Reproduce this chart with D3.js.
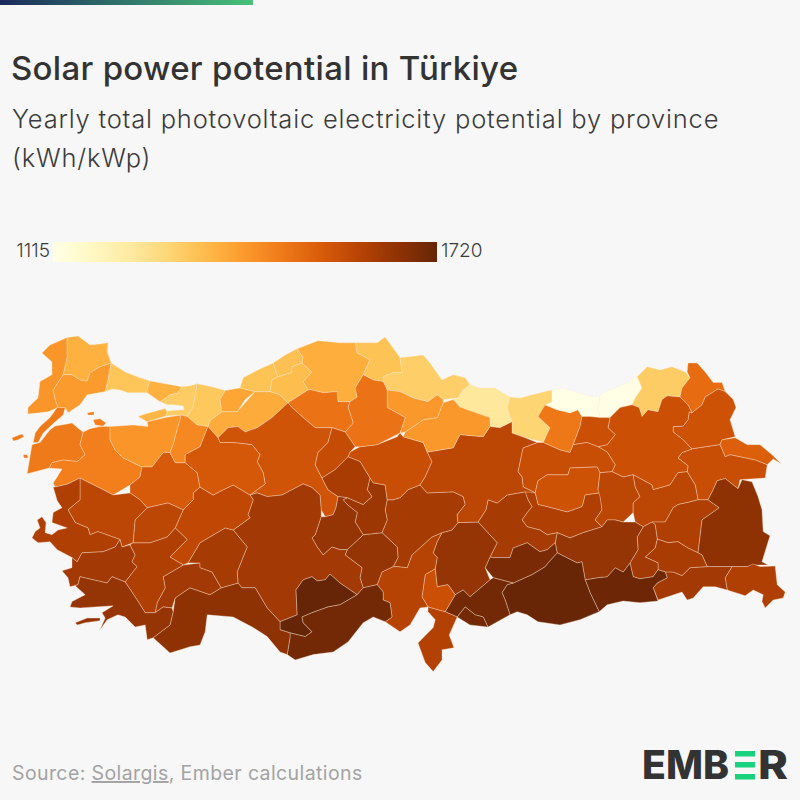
<!DOCTYPE html>
<html>
<head>
<meta charset="utf-8">
<script src="https://cdn.jsdelivr.net/npm/d3@7"></script>
<style>
  html, body { margin: 0; padding: 0; background: #f7f7f7; }
  svg { display: block; font-family: Inter, "Noto Sans", sans-serif; }
</style>
</head>
<body>
<svg id="chart" width="800" height="800"></svg>
<script>
const title = "Solar power potential in Türkiye";
const subtitleLines = ["Yearly total photovoltaic electricity potential by province", "(kWh/kWp)"];
const legendTicks = [1115, 1720];

const provinceNames = ["Edirne","Kırklareli","Tekirdağ","Çanakkale","Balıkesir","Bursa","Yalova","Kocaeli","İstanbul","İstanbul (Anadolu)","Sakarya","Düzce","Bolu","Zonguldak","Bartın","Karabük","Kastamonu","Sinop","Samsun","Ordu","Giresun","Gümüşhane","Trabzon","Rize","Artvin","Ardahan","Kars","Iğdır","Ağrı","Erzurum","Bayburt","Erzincan","Tunceli","Elazığ","Bingöl","Muş","Bitlis","Van","Hakkari","Şırnak","Siirt","Batman","Mardin","Diyarbakır","Şanlıurfa","Malatya","Adıyaman","Kahramanmaraş","Gaziantep","Kilis","Hatay","Osmaniye","Adana","Kayseri","Niğde","Nevşehir","Yozgat","Sivas","Tokat","Amasya","Çorum","Çankırı","Ankara","Kırıkkale","Kırşehir","Aksaray","Konya","Karaman","Mersin","Antalya","Burdur","Isparta","Afyonkarahisar","Kütahya","Bilecik","Eskişehir","Manisa","İzmir","Aydın","Denizli","Uşak","Muğla"];

const provinceValues = [1425,1375,1415,1475,1465,1425,1365,1320,1335,1375,1330,1395,1385,1340,1345,1350,1380,1340,1315,1245,1300,1480,1115,1115,1320,1505,1560,1530,1570,1565,1565,1570,1560,1610,1590,1590,1610,1660,1610,1630,1620,1630,1710,1650,1715,1625,1690,1650,1700,1700,1605,1565,1600,1625,1650,1640,1570,1590,1420,1420,1490,1490,1555,1575,1620,1650,1630,1720,1700,1660,1630,1625,1585,1540,1450,1545,1590,1610,1630,1610,1590,1650];

// province outlines as [lon, lat], one list of rings per province, same order as provinceNames
const provinceRings = [
  [[[26.42,41.80],[26.62,41.95],[27.05,42.09],[27.05,41.71],[26.95,41.39],[26.70,41.10],[26.75,40.92],[26.82,40.77],[26.57,40.69],[26.07,40.65],[26.07,40.77],[26.32,40.95],[26.37,41.26],[26.67,41.39],[26.67,41.63]]],
  [[[27.05,42.09],[27.32,42.12],[27.62,41.95],[27.87,41.97],[28.07,41.99],[28.05,41.82],[28.15,41.61],[27.87,41.54],[27.62,41.43],[27.55,41.27],[27.37,41.29],[27.17,41.39],[26.95,41.39],[27.05,41.71]]],
  [[[26.95,41.39],[27.17,41.39],[27.37,41.29],[27.55,41.27],[27.62,41.43],[27.87,41.54],[28.15,41.61],[28.07,41.29],[28.00,41.07],[27.55,41.01],[27.37,40.82],[27.07,40.67],[27.00,40.77],[26.82,40.77],[26.75,40.92],[26.70,41.10]]],
  [[[26.80,40.77],[27.00,40.77],[26.95,40.63],[26.75,40.50],[26.45,40.29],[26.32,40.11],[26.20,40.11],[26.25,40.29],[26.37,40.41],[26.62,40.58]],
   [[25.67,40.20],[25.92,40.27],[25.97,40.22],[25.82,40.16],[25.70,40.14]],
   [[25.95,39.88],[26.05,39.88],[26.07,39.82],[25.97,39.82]],
   [[26.17,40.07],[26.37,40.11],[26.62,40.35],[26.75,40.42],[27.05,40.46],[27.17,40.48],[27.37,40.35],[27.45,40.31],[27.37,40.07],[27.50,39.88],[27.30,39.75],[26.95,39.78],[26.67,39.73],[26.60,39.63],[26.05,39.52],[26.12,39.84]]],
  [[[26.60,39.63],[26.67,39.73],[26.95,39.78],[27.30,39.75],[27.50,39.88],[27.37,40.07],[27.45,40.31],[27.62,40.37],[27.87,40.41],[28.12,40.41],[28.12,40.16],[28.25,39.97],[28.45,39.82],[28.92,39.65],[28.87,39.46],[28.62,39.31],[28.20,39.12],[27.95,39.22],[27.55,39.37],[27.37,39.44],[27.07,39.33],[26.75,39.27],[26.70,39.35],[26.80,39.46],[26.92,39.61]],
   [[27.70,40.54],[27.87,40.56],[28.02,40.48],[27.95,40.42],[27.75,40.44]],
   [[27.55,40.67],[27.72,40.69],[27.72,40.63],[27.57,40.63]]],
  [[[28.12,40.41],[28.70,40.44],[29.07,40.41],[29.05,40.50],[29.50,40.58],[29.90,40.63],[29.87,40.54],[29.75,40.22],[29.70,40.07],[29.62,39.92],[29.45,39.92],[29.17,39.65],[28.92,39.65],[28.45,39.82],[28.25,39.97],[28.12,40.16]]],
  [[[28.82,40.60],[29.00,40.65],[29.50,40.75],[29.57,40.65],[29.52,40.61],[29.05,40.50]]],
  [[[29.37,40.88],[29.62,41.01],[29.82,41.05],[29.92,41.16],[30.12,41.18],[30.30,41.22],[30.20,40.78],[30.05,40.60],[29.90,40.63],[29.52,40.61],[29.57,40.71],[29.97,40.73],[29.95,40.80],[29.70,40.82],[29.55,40.82]]],
  [[[28.15,41.61],[28.50,41.44],[28.87,41.33],[29.12,41.27],[29.07,41.16],[29.05,41.05],[28.57,41.05],[28.37,41.10],[28.17,41.12],[28.00,41.07],[28.07,41.29]]],
  [[[29.12,41.27],[29.50,41.22],[29.92,41.16],[29.82,41.05],[29.62,41.01],[29.37,40.88],[29.05,41.05],[29.07,41.16]]],
  [[[30.30,41.22],[30.67,41.16],[31.00,41.09],[30.87,40.92],[30.92,40.69],[30.62,40.52],[30.57,40.41],[30.30,40.44],[30.05,40.60],[30.20,40.78]]],
  [[[31.00,41.09],[31.37,41.14],[31.75,41.07],[31.50,40.92],[31.30,40.69],[30.92,40.69],[30.87,40.92]]],
  [[[30.57,40.41],[30.62,40.52],[30.92,40.69],[31.30,40.69],[31.75,41.07],[32.12,41.07],[32.37,41.01],[32.57,40.86],[32.17,40.58],[31.80,40.39],[31.50,40.31],[31.32,40.41],[31.07,40.39],[30.82,40.20]]],
  [[[31.37,41.14],[31.45,41.33],[31.82,41.48],[32.20,41.61],[32.32,41.35],[32.17,41.29],[32.12,41.07],[31.75,41.07]]],
  [[[32.20,41.61],[32.50,41.76],[32.80,41.88],[32.95,41.71],[32.92,41.61],[32.67,41.54],[32.67,41.43],[32.32,41.35]]],
  [[[32.67,41.54],[32.92,41.61],[33.17,41.44],[32.95,41.26],[33.07,41.10],[32.57,40.86],[32.37,41.01],[32.12,41.07],[32.17,41.29],[32.32,41.35],[32.67,41.43]]],
  [[[32.80,41.88],[33.32,42.03],[33.87,41.99],[34.25,41.99],[34.30,41.80],[34.62,41.67],[34.45,41.39],[34.25,41.14],[34.30,40.97],[34.12,40.88],[33.82,40.88],[33.80,41.07],[33.45,41.05],[33.17,41.10],[33.07,41.10],[32.95,41.26],[33.17,41.44],[32.92,41.61],[32.95,41.71]]],
  [[[34.25,41.99],[34.80,41.99],[35.00,42.10],[35.17,41.92],[35.37,41.71],[35.42,41.43],[35.20,41.43],[34.95,41.35],[34.95,41.26],[34.70,41.29],[34.45,41.39],[34.62,41.67],[34.30,41.80]]],
  [[[35.37,41.71],[35.95,41.76],[36.12,41.61],[36.42,41.29],[36.70,41.39],[37.00,41.33],[37.12,41.20],[36.95,41.10],[36.82,40.95],[36.45,40.92],[36.30,41.01],[36.07,40.88],[35.70,40.95],[35.37,41.07],[35.05,41.10],[34.95,41.26],[34.95,41.35],[35.20,41.43],[35.42,41.43]]],
  [[[37.12,41.20],[37.37,41.14],[37.75,41.14],[38.12,40.97],[38.05,40.77],[38.17,40.50],[37.87,40.39],[37.62,40.41],[37.62,40.58],[37.20,40.69],[36.87,40.78],[36.70,40.92],[36.82,40.95],[36.95,41.10]]],
  [[[38.12,40.97],[38.37,40.95],[38.87,41.05],[39.17,41.10],[39.17,40.88],[38.82,40.60],[39.12,40.39],[38.95,40.12],[38.50,40.20],[38.17,40.29],[38.17,40.50],[38.05,40.77]]],
  [[[39.00,40.82],[39.30,40.73],[39.62,40.67],[39.82,40.73],[39.92,40.60],[39.87,40.41],[39.70,40.07],[39.62,39.92],[39.37,39.97],[38.95,40.11],[39.12,40.39],[38.82,40.60]]],
  [[[39.17,41.10],[39.45,41.14],[39.80,41.05],[40.20,40.97],[40.37,40.99],[40.32,40.73],[40.37,40.58],[40.12,40.60],[39.92,40.60],[39.82,40.73],[39.62,40.67],[39.30,40.73],[39.00,40.82],[39.17,40.88]]],
  [[[40.37,40.99],[40.45,41.05],[40.95,41.20],[41.30,41.35],[41.42,41.14],[41.25,40.95],[41.17,40.82],[40.87,40.77],[40.62,40.60],[40.37,40.58],[40.32,40.73]]],
  [[[41.30,41.35],[41.55,41.54],[41.87,41.48],[42.17,41.54],[42.50,41.44],[42.62,41.33],[42.42,41.14],[42.37,40.97],[42.05,40.99],[41.92,40.92],[41.82,40.69],[41.57,40.73],[41.42,40.60],[41.35,40.77],[41.17,40.82],[41.25,40.95],[41.42,41.14]]],
  [[[42.57,41.61],[42.80,41.61],[43.00,41.44],[43.20,41.24],[43.42,41.24],[43.50,41.07],[43.32,41.12],[43.00,40.97],[42.92,40.82],[42.67,40.67],[42.57,40.82],[42.37,40.97],[42.42,41.14],[42.62,41.33],[42.55,41.44]]],
  [[[43.32,41.12],[43.50,41.07],[43.70,40.92],[43.77,40.77],[43.62,40.54],[43.75,40.22],[43.42,40.16],[43.37,40.07],[42.67,39.99],[42.45,40.16],[42.20,40.31],[42.20,40.41],[42.45,40.42],[42.57,40.54],[42.60,40.69],[42.67,40.67],[42.92,40.82],[43.00,40.97]]],
  [[[43.42,40.16],[43.75,40.20],[44.05,40.07],[44.37,40.07],[44.67,39.88],[44.90,39.71],[44.70,39.80],[44.55,39.69],[44.25,39.78],[43.62,39.88],[43.50,39.84],[43.37,40.07]]],
  [[[42.67,39.99],[43.37,40.07],[43.50,39.84],[43.62,39.88],[44.25,39.78],[44.55,39.69],[44.50,39.44],[43.87,39.41],[43.82,39.24],[43.50,39.43],[43.30,39.39],[43.20,39.22],[43.07,39.03],[42.82,39.03],[42.75,39.31],[42.55,39.56],[42.57,39.67],[42.32,39.82],[42.42,39.92]]],
  [[[41.42,40.60],[41.57,40.73],[41.82,40.69],[41.92,40.92],[42.05,40.99],[42.37,40.97],[42.57,40.82],[42.67,40.67],[42.60,40.69],[42.57,40.54],[42.45,40.42],[42.20,40.41],[42.20,40.31],[42.45,40.16],[42.67,39.99],[42.42,39.92],[42.32,39.82],[42.57,39.67],[42.55,39.56],[42.32,39.54],[42.12,39.31],[41.70,39.22],[41.67,39.31],[41.20,39.50],[40.95,39.46],[40.67,39.56],[40.75,39.69],[40.55,39.93],[40.32,40.03],[40.55,40.07],[40.75,40.26],[40.57,40.39],[40.62,40.58],[40.87,40.77],[41.17,40.82],[41.35,40.77]]],
  [[[39.92,40.60],[40.12,40.60],[40.37,40.58],[40.62,40.58],[40.57,40.39],[40.75,40.26],[40.55,40.07],[40.32,40.03],[40.05,40.11],[39.70,40.07],[39.87,40.41]]],
  [[[38.80,40.11],[38.95,40.11],[39.37,39.97],[39.62,39.92],[39.70,40.07],[40.05,40.11],[40.32,40.03],[40.55,39.93],[40.75,39.69],[40.67,39.56],[40.37,39.54],[40.30,39.65],[39.62,39.63],[39.57,39.50],[39.05,39.50],[38.82,39.39],[38.75,39.16],[38.45,39.27],[38.42,39.46],[38.32,39.56],[38.42,39.93],[38.45,40.01]]],
  [[[38.82,39.39],[39.05,39.50],[39.57,39.50],[39.62,39.63],[40.30,39.65],[40.37,39.54],[40.32,39.22],[40.37,39.16],[40.00,39.12],[39.95,38.97],[39.92,38.90],[39.55,38.80],[39.05,38.90],[38.82,38.94],[38.75,39.16]]],
  [[[38.45,39.27],[38.75,39.16],[38.82,38.94],[39.05,38.90],[39.55,38.80],[39.92,38.90],[39.95,38.97],[40.00,39.12],[40.37,39.16],[40.42,38.84],[40.25,38.65],[40.42,38.52],[39.95,38.41],[39.62,38.31],[39.30,38.41],[39.05,38.37],[38.87,38.46],[38.55,38.52],[38.42,38.65],[38.55,38.79],[38.67,38.90],[38.57,39.03]]],
  [[[40.37,39.54],[40.67,39.56],[40.95,39.46],[41.20,39.50],[41.25,39.27],[41.37,39.09],[41.20,38.97],[41.20,38.79],[40.95,38.61],[40.75,38.65],[40.55,38.65],[40.42,38.52],[40.25,38.65],[40.42,38.84],[40.37,39.09],[40.32,39.22]]],
  [[[41.20,39.50],[41.67,39.31],[41.70,39.22],[42.12,39.31],[42.32,39.54],[42.55,39.56],[42.75,39.31],[42.82,39.03],[42.62,38.99],[42.32,38.94],[42.20,38.88],[42.00,38.61],[41.67,38.61],[41.45,38.52],[41.25,38.61],[41.20,38.79],[41.20,38.97],[41.37,39.09],[41.25,39.27]]],
  [[[42.32,38.94],[42.62,38.99],[42.82,39.03],[43.07,39.03],[43.35,38.88],[42.92,38.65],[42.87,38.33],[42.82,38.03],[42.57,38.12],[42.32,38.24],[42.07,38.22],[41.80,38.29],[41.75,38.56],[41.67,38.61],[42.00,38.61],[42.20,38.88]]],
  [[[43.07,39.03],[43.20,39.22],[43.30,39.39],[43.50,39.43],[43.82,39.24],[43.92,39.41],[44.17,39.37],[44.32,39.09],[44.42,38.84],[44.45,38.43],[44.62,38.35],[44.55,38.18],[44.42,37.86],[44.57,37.80],[44.20,37.80],[44.05,37.77],[43.67,37.77],[43.05,37.77],[42.92,37.99],[42.82,38.03],[42.87,38.33],[42.92,38.65],[43.35,38.88]]],
  [[[43.67,37.77],[44.05,37.77],[44.20,37.82],[44.37,37.77],[44.75,37.78],[44.80,37.43],[45.00,37.29],[44.95,37.18],[44.70,37.14],[44.50,36.99],[44.42,37.11],[44.45,37.24],[44.20,37.33],[44.00,37.22],[43.55,37.33],[43.50,37.56]]],
  [[[43.05,37.77],[43.67,37.77],[43.50,37.56],[43.55,37.33],[43.25,37.39],[42.95,37.39],[42.70,37.18],[42.55,37.14],[42.42,37.29],[41.82,37.14],[41.70,37.37],[41.80,37.46],[42.05,37.56],[42.00,37.67],[42.20,37.67],[42.42,37.60],[42.62,37.75]]],
  [[[41.80,38.29],[42.07,38.22],[42.32,38.24],[42.57,38.12],[42.82,38.03],[42.92,37.99],[43.05,37.77],[42.62,37.75],[42.42,37.60],[42.20,37.67],[42.00,37.67],[41.82,37.71],[41.82,37.84],[41.50,37.95],[41.75,38.12]]],
  [[[41.45,38.52],[41.67,38.61],[41.75,38.56],[41.80,38.29],[41.75,38.12],[41.50,37.95],[41.82,37.84],[41.82,37.71],[41.70,37.58],[41.37,37.54],[41.20,37.58],[41.12,37.84],[41.32,38.09],[41.30,38.33]]],
  [[[40.00,37.52],[40.30,37.56],[40.55,37.58],[40.75,37.75],[40.95,37.67],[41.12,37.84],[41.20,37.58],[41.37,37.54],[41.70,37.58],[41.82,37.71],[42.00,37.67],[42.05,37.56],[41.80,37.46],[41.70,37.37],[41.82,37.12],[41.37,37.09],[40.95,37.12],[40.55,37.05],[40.35,36.92],[40.12,37.28]]],
  [[[39.30,38.41],[39.62,38.31],[39.95,38.41],[40.42,38.52],[40.55,38.65],[40.75,38.65],[40.95,38.61],[41.25,38.61],[41.45,38.52],[41.30,38.33],[41.32,38.09],[41.12,37.84],[40.95,37.67],[40.75,37.75],[40.55,37.58],[40.30,37.56],[40.00,37.52],[39.92,37.86],[39.80,37.84],[39.30,38.03],[39.25,38.22]]],
  [[[39.30,38.03],[39.80,37.84],[39.92,37.86],[40.00,37.52],[40.12,37.28],[40.35,36.92],[39.87,36.77],[39.37,36.67],[38.82,36.73],[38.55,36.86],[38.30,36.92],[38.12,36.86],[38.00,37.14],[37.92,37.28],[38.05,37.43],[38.20,37.46],[38.67,37.62],[39.00,37.77],[39.07,37.84]]],
  [[[37.57,39.03],[37.80,38.97],[38.05,39.12],[38.50,39.18],[38.57,39.03],[38.67,38.90],[38.55,38.79],[38.42,38.65],[38.55,38.52],[38.87,38.46],[39.05,38.37],[39.30,38.41],[39.25,38.22],[39.05,38.09],[38.87,38.05],[38.55,38.22],[38.20,38.12],[38.12,37.94],[37.70,37.94],[37.62,37.95],[37.80,38.22],[37.32,38.61],[37.52,38.84]]],
  [[[37.70,37.94],[38.12,37.94],[38.20,38.12],[38.55,38.22],[38.87,38.05],[39.05,38.09],[39.25,38.22],[39.30,38.03],[39.07,37.84],[39.00,37.77],[38.67,37.62],[38.20,37.46],[37.70,37.56],[37.50,37.75],[37.62,37.95]]],
  [[[36.82,38.60],[37.32,38.61],[37.80,38.22],[37.62,37.95],[37.50,37.75],[37.62,37.52],[37.12,37.20],[36.95,37.33],[36.75,37.24],[36.57,37.43],[36.30,37.39],[36.25,37.73],[36.30,37.94],[36.20,38.03],[36.30,38.24],[36.42,38.41],[36.67,38.46]]],
  [[[36.50,36.92],[36.75,37.24],[36.95,37.33],[37.12,37.20],[37.62,37.52],[37.70,37.56],[38.20,37.46],[38.05,37.43],[37.92,37.28],[38.00,37.14],[38.12,36.86],[37.57,36.63],[37.45,36.82],[37.25,36.86],[37.00,37.01],[36.80,36.82]]],
  [[[36.80,36.82],[37.00,37.01],[37.25,36.86],[37.45,36.82],[37.57,36.63],[37.12,36.67]]],
  [[[36.07,37.01],[36.50,36.92],[36.80,36.82],[36.60,36.48],[36.72,36.24],[36.42,36.20],[36.42,36.01],[36.20,35.79],[36.00,35.96],[35.82,36.33],[36.20,36.62],[36.25,36.77],[36.07,36.92]]],
  [[[36.25,37.73],[36.30,37.39],[36.57,37.43],[36.75,37.24],[36.50,36.92],[36.07,37.01],[35.92,37.20],[36.00,37.62]]],
  [[[35.55,37.75],[35.67,37.99],[35.95,38.18],[36.17,38.33],[36.42,38.41],[36.30,38.24],[36.20,38.03],[36.30,37.94],[36.25,37.73],[36.00,37.62],[35.92,37.20],[36.07,37.01],[35.87,36.99],[35.62,36.67],[35.37,36.54],[35.00,36.73],[35.17,36.82],[35.12,37.09],[34.95,37.14],[34.95,37.29],[34.80,37.43],[34.92,37.67],[35.20,37.77],[35.32,37.77]]],
  [[[35.05,39.03],[35.20,39.03],[35.37,39.07],[35.57,39.22],[35.87,39.31],[36.05,39.16],[36.70,39.18],[36.95,39.09],[37.00,38.94],[36.80,38.75],[36.82,38.60],[36.67,38.46],[36.42,38.41],[36.17,38.33],[35.95,38.18],[35.67,37.99],[35.55,37.75],[35.32,37.77],[35.20,37.77],[35.32,37.94],[35.30,38.14],[34.92,38.41],[35.05,38.65],[35.00,38.84]]],
  [[[34.05,38.09],[34.45,38.37],[34.92,38.41],[35.30,38.14],[35.32,37.94],[35.20,37.77],[34.92,37.67],[34.80,37.43],[34.45,37.37],[34.37,37.56],[34.42,37.75],[34.00,37.99]]],
  [[[34.62,39.44],[34.70,39.35],[35.00,39.31],[35.05,39.03],[35.00,38.84],[35.05,38.65],[34.92,38.41],[34.45,38.37],[34.25,38.61],[34.30,38.79],[34.05,38.94],[33.95,39.03],[34.05,39.07],[34.45,38.94],[34.67,39.09],[34.55,39.22]]],
  [[[34.12,39.93],[34.37,40.03],[34.80,40.07],[35.30,40.22],[35.37,40.29],[35.45,40.22],[35.95,40.11],[36.05,39.93],[36.17,39.75],[36.00,39.46],[35.87,39.31],[35.57,39.22],[35.37,39.07],[35.20,39.03],[35.05,39.03],[35.00,39.31],[34.70,39.35],[34.62,39.44],[34.37,39.75],[34.07,39.84]]],
  [[[36.05,39.93],[36.70,40.01],[36.87,40.26],[37.45,40.22],[37.62,40.41],[37.87,40.39],[38.17,40.50],[38.17,40.29],[38.50,40.20],[38.80,40.11],[38.45,40.01],[38.42,39.93],[38.32,39.56],[38.42,39.46],[38.45,39.27],[38.75,39.16],[38.50,39.18],[38.05,39.12],[37.80,38.97],[37.57,39.03],[37.52,38.84],[37.32,38.61],[36.82,38.60],[36.80,38.75],[37.00,38.94],[36.95,39.09],[36.70,39.18],[36.05,39.16],[35.87,39.31],[36.00,39.46],[36.17,39.75]]],
  [[[35.50,40.31],[35.70,40.41],[35.95,40.54],[36.30,40.58],[36.45,40.86],[36.70,40.92],[36.87,40.78],[37.20,40.69],[37.62,40.58],[37.62,40.41],[37.45,40.22],[36.87,40.26],[36.70,40.01],[36.05,39.93],[35.95,40.11],[35.45,40.22]]],
  [[[35.05,41.10],[35.37,41.07],[35.70,40.95],[36.07,40.88],[36.30,41.01],[36.45,40.92],[36.45,40.86],[36.30,40.58],[35.95,40.54],[35.70,40.41],[35.50,40.31],[35.37,40.29],[35.50,40.58],[35.05,40.77]]],
  [[[34.25,41.14],[34.45,41.39],[34.70,41.29],[34.95,41.26],[35.05,41.10],[35.05,40.77],[35.50,40.58],[35.37,40.29],[34.80,40.07],[34.37,40.03],[34.25,40.03],[34.00,40.31],[34.20,40.48],[34.07,40.78],[34.12,40.88],[34.30,40.97]]],
  [[[32.57,40.86],[33.07,41.10],[33.17,41.10],[33.45,41.05],[33.80,41.07],[33.82,40.88],[34.12,40.88],[34.07,40.78],[34.20,40.48],[34.00,40.31],[33.67,40.39],[33.25,40.39],[32.95,40.58],[32.67,40.77]]],
  [[[30.82,40.20],[31.07,40.39],[31.32,40.41],[31.50,40.31],[31.80,40.39],[32.17,40.58],[32.57,40.86],[32.67,40.77],[32.95,40.58],[33.25,40.39],[33.67,40.39],[33.57,40.11],[33.32,39.92],[33.25,39.69],[33.42,39.44],[33.57,39.22],[33.82,39.09],[33.77,38.88],[33.70,38.75],[33.50,38.71],[33.40,38.84],[33.37,39.12],[33.17,39.26],[32.95,39.33],[32.80,39.27],[32.42,39.12],[32.05,39.09],[31.80,39.16],[31.62,39.12],[32.00,39.33],[31.95,39.54],[31.80,39.75],[31.87,39.88],[31.67,40.07],[31.20,40.11],[30.87,40.11]]],
  [[[33.67,40.39],[34.00,40.31],[34.25,40.03],[34.12,39.93],[34.07,39.84],[33.75,39.60],[33.42,39.44],[33.25,39.69],[33.32,39.92],[33.57,40.11]]],
  [[[33.42,39.44],[33.75,39.60],[34.07,39.84],[34.37,39.75],[34.62,39.44],[34.55,39.22],[34.67,39.09],[34.45,38.94],[34.05,39.07],[33.82,39.09],[33.57,39.22]]],
  [[[33.82,39.09],[34.05,39.07],[33.95,39.03],[34.05,38.94],[34.30,38.79],[34.25,38.61],[34.45,38.37],[34.05,38.09],[33.87,38.09],[33.67,38.14],[33.45,37.99],[33.30,38.14],[33.17,38.31],[33.25,38.37],[33.40,38.71],[33.50,38.71],[33.70,38.75],[33.77,38.88]]],
  [[[31.62,39.12],[31.80,39.16],[32.05,39.09],[32.42,39.12],[32.80,39.27],[32.95,39.33],[33.17,39.26],[33.37,39.12],[33.40,38.84],[33.40,38.71],[33.25,38.37],[33.17,38.31],[33.30,38.14],[33.45,37.99],[33.67,38.14],[33.87,38.09],[34.05,38.09],[34.00,37.99],[34.42,37.75],[34.37,37.56],[34.45,37.37],[34.30,37.24],[33.87,37.46],[33.62,37.63],[33.50,37.52],[33.30,37.50],[33.17,37.58],[32.95,37.52],[32.77,37.33],[32.80,36.86],[32.37,36.73],[32.05,36.99],[31.75,37.37],[31.42,37.37],[31.32,37.46],[31.30,37.67],[31.42,37.90],[31.55,38.14],[31.20,38.46],[31.62,38.69],[31.57,38.75],[31.70,39.03]]],
  [[[32.77,37.33],[32.95,37.52],[33.17,37.58],[33.30,37.50],[33.50,37.52],[33.62,37.63],[33.87,37.46],[34.30,37.24],[33.87,37.05],[33.57,37.01],[33.17,36.90],[32.92,36.82],[32.95,36.71],[33.17,36.54],[33.00,36.45],[32.62,36.52],[32.37,36.58],[32.37,36.73],[32.80,36.86]]],
  [[[34.30,37.24],[34.45,37.37],[34.80,37.43],[34.95,37.29],[34.95,37.14],[35.12,37.09],[35.17,36.82],[35.00,36.73],[34.70,36.82],[34.45,36.71],[34.07,36.35],[33.70,36.16],[33.20,36.11],[32.75,36.01],[32.55,36.11],[32.62,36.43],[32.62,36.52],[33.00,36.45],[33.17,36.54],[32.95,36.71],[32.92,36.82],[33.17,36.90],[33.57,37.01],[33.87,37.05]]],
  [[[29.20,36.43],[29.62,36.14],[30.12,36.26],[30.37,36.29],[30.50,36.54],[30.55,36.86],[31.20,36.82],[31.70,36.62],[32.05,36.45],[32.37,36.16],[32.55,36.11],[32.62,36.43],[32.62,36.52],[32.37,36.58],[32.37,36.73],[32.05,36.99],[31.75,37.37],[31.42,37.37],[31.32,37.46],[30.90,37.37],[30.62,37.24],[30.12,37.37],[29.75,37.18],[29.70,36.92],[29.62,36.67]]],
  [[[29.25,36.90],[29.45,37.01],[29.67,36.99],[29.75,37.18],[30.12,37.37],[30.62,37.24],[30.90,37.37],[30.67,37.67],[30.37,37.75],[30.37,37.84],[29.95,37.80],[29.45,37.58],[29.50,37.37],[29.30,37.09]]],
  [[[30.07,37.84],[30.37,38.22],[31.00,38.50],[31.20,38.46],[31.55,38.14],[31.42,37.90],[31.30,37.67],[31.32,37.46],[30.90,37.37],[30.67,37.67],[30.37,37.75],[30.37,37.84]]],
  [[[30.37,39.27],[30.70,39.12],[30.95,39.22],[31.20,39.31],[31.62,39.12],[31.70,39.03],[31.57,38.75],[31.62,38.69],[31.20,38.46],[31.00,38.50],[30.37,38.22],[30.07,37.84],[29.95,37.80],[29.62,37.95],[30.05,38.28],[29.75,38.50],[29.95,38.84],[30.20,39.03],[30.20,39.16]]],
  [[[28.92,39.65],[29.17,39.65],[29.45,39.92],[29.62,39.92],[29.75,39.73],[30.00,39.73],[30.30,39.54],[30.37,39.27],[30.20,39.16],[30.20,39.03],[29.95,38.84],[29.57,38.97],[29.05,38.88],[28.87,39.03],[28.62,39.16],[28.62,39.31],[28.87,39.46]]],
  [[[29.90,40.63],[30.05,40.60],[30.30,40.44],[30.57,40.41],[30.37,40.03],[30.00,39.88],[30.00,39.73],[29.75,39.73],[29.62,39.92],[29.70,40.07],[29.75,40.22],[29.87,40.54]]],
  [[[30.57,40.41],[30.82,40.20],[30.87,40.11],[31.20,40.11],[31.67,40.07],[31.87,39.88],[31.80,39.75],[31.95,39.54],[32.00,39.33],[31.62,39.12],[31.20,39.31],[30.95,39.22],[30.70,39.12],[30.37,39.27],[30.30,39.54],[30.00,39.73],[30.00,39.88],[30.37,40.03]]],
  [[[27.37,39.44],[27.55,39.37],[27.95,39.22],[28.20,39.12],[28.62,39.16],[28.87,39.03],[29.05,38.88],[28.75,38.65],[28.70,38.22],[28.42,38.14],[28.37,38.28],[27.82,38.43],[27.62,38.37],[27.57,38.50],[27.25,38.60],[27.07,38.84],[27.37,39.03]]],
  [[[26.75,39.27],[27.07,39.33],[27.37,39.44],[27.37,39.03],[27.07,38.84],[27.25,38.60],[27.57,38.50],[27.62,38.37],[27.82,38.43],[28.37,38.28],[28.25,38.14],[27.95,38.05],[27.42,38.03],[27.30,37.86],[27.17,37.94],[26.80,38.09],[26.62,38.24],[26.32,38.22],[26.17,38.31],[26.25,38.43],[26.37,38.50],[26.30,38.65],[26.42,38.71],[26.52,38.60],[26.50,38.41],[26.67,38.37],[26.82,38.46],[27.05,38.50],[26.67,38.60],[26.70,38.79],[26.92,38.88],[26.80,39.01],[26.70,39.27]]],
  [[[27.30,37.86],[27.42,38.03],[27.95,38.05],[28.25,38.14],[28.37,38.28],[28.42,38.14],[28.62,38.18],[28.75,37.99],[28.67,37.86],[28.80,37.77],[28.50,37.48],[28.17,37.58],[28.05,37.46],[27.70,37.52],[27.37,37.58],[27.32,37.43],[27.12,37.39],[27.07,37.56],[26.92,37.69],[27.17,37.75],[27.17,37.94]]],
  [[[28.70,38.22],[29.12,38.22],[29.55,38.33],[29.75,38.50],[30.05,38.28],[29.62,37.95],[29.95,37.80],[29.45,37.58],[29.50,37.37],[29.30,37.09],[29.25,36.90],[29.00,36.90],[28.80,37.14],[28.50,37.48],[28.80,37.77],[28.67,37.86],[28.75,37.99],[28.62,38.18]]],
  [[[28.75,38.65],[29.05,38.88],[29.57,38.97],[29.95,38.84],[29.75,38.50],[29.55,38.33],[29.12,38.22],[28.70,38.22]]],
  [[[27.37,37.58],[27.70,37.52],[28.05,37.46],[28.17,37.58],[28.50,37.48],[28.80,37.14],[29.00,36.90],[29.25,36.90],[29.45,37.01],[29.67,36.99],[29.70,36.92],[29.62,36.67],[29.20,36.43],[29.05,36.39],[29.00,36.67],[28.75,36.63],[28.50,36.82],[28.32,36.86],[28.05,36.77],[27.87,36.58],[28.00,36.80],[27.92,36.90],[28.20,37.03],[27.75,37.01],[27.37,36.99],[27.12,37.01],[27.17,37.11],[27.50,37.24],[27.25,37.41],[27.32,37.43]],
   [[27.25,36.71],[27.55,36.80],[27.87,36.80],[27.87,36.75],[27.50,36.71],[27.30,36.67]]]
];

const svg = d3.select("#chart");

// colour scale, same for the map and the legend
const color = d3.scaleSequential(d3.interpolateYlOrBr).domain(d3.extent(legendTicks));

// top accent bar
const defs = svg.append("defs");
const barGrad = defs.append("linearGradient").attr("id", "barGrad");
barGrad.append("stop").attr("offset", "0%").attr("stop-color", "#1b2a5c");
barGrad.append("stop").attr("offset", "100%").attr("stop-color", "#47c27a");
svg.append("rect").attr("x", 0).attr("y", 0).attr("width", 253).attr("height", 5).attr("fill", "url(#barGrad)");

// title and subtitle
svg.append("text").attr("x", 11).attr("y", 80)
  .attr("font-size", 33).attr("font-weight", 500).attr("letter-spacing", 0.3).attr("fill", "#333")
  .text(title);
svg.selectAll(".sub").data(subtitleLines).enter().append("text")
  .attr("class", "sub").attr("x", 12).attr("y", (d, i) => 128 + i * 39)
  .attr("font-size", 25.5).attr("font-weight", 300).attr("fill", "#3c3c3c").attr("letter-spacing", 0.8)
  .text(d => d);

// legend
const legendScale = d3.scaleLinear().domain(d3.extent(legendTicks)).range([53, 437]);
const legendGrad = defs.append("linearGradient").attr("id", "legendGrad");
d3.range(0, 1.01, 0.1).forEach(t => {
  legendGrad.append("stop").attr("offset", t * 100 + "%").attr("stop-color", d3.interpolateYlOrBr(t));
});
svg.append("rect").attr("x", legendScale(1115)).attr("y", 242)
  .attr("width", legendScale(1720) - legendScale(1115)).attr("height", 20)
  .attr("fill", "url(#legendGrad)");
svg.selectAll(".tick-label").data(legendTicks).enter().append("text")
  .attr("class", "tick-label")
  .attr("x", d => d === 1115 ? legendScale(d) - 3 : legendScale(d) + 4)
  .attr("y", 257)
  .attr("text-anchor", d => d === 1115 ? "end" : "start")
  .attr("font-size", 19).attr("font-weight", 300).attr("fill", "#3c3c3c")
  .text(d => d);

// map: lon/lat go through two linear scales fitted to the frame of the reference
const lonScale = d3.scaleLinear().domain([25.67, 44.82]).range([12, 778]);
const latScale = d3.scaleLinear().domain([42.10, 35.82]).range([337, 670]);
const path = d3.geoPath(d3.geoTransform({
  point(lon, lat) { this.stream.point(lonScale(lon), latScale(lat)); }
}));

const features = provinceNames.map((name, i) => ({
  type: "Feature",
  properties: { name: name, value: provinceValues[i] },
  geometry: { type: "MultiPolygon", coordinates: provinceRings[i].map(ring => [ring.concat([ring[0]])]) }
}));

svg.append("g").selectAll("path").data(features).enter().append("path")
  .attr("d", path)
  .attr("fill", d => color(d.properties.value))
  .attr("stroke", "#ffe9d6").attr("stroke-opacity", 0.45).attr("stroke-width", 0.8)
  .attr("stroke-linejoin", "round");

// source line
const source = svg.append("text").attr("x", 12).attr("y", 780).attr("font-size", 19.5).attr("letter-spacing", 0.4).attr("fill", "#a3a3a3");
source.append("tspan").text("Source: ");
source.append("tspan").attr("text-decoration", "underline").text("Solargis");
source.append("tspan").text(", Ember calculations");

// logo, the middle E is three green bars
const logo = svg.append("g").attr("font-size", 39).attr("font-weight", 800).attr("fill", "#333")
  .attr("font-family", "Inter, sans-serif");
logo.append("text").attr("x", 642).attr("y", 779).attr("textLength", 87).attr("lengthAdjust", "spacingAndGlyphs").text("EMB");
logo.append("text").attr("x", 758).attr("y", 779).attr("textLength", 30).attr("lengthAdjust", "spacingAndGlyphs").text("R");
svg.selectAll(".logo-bar").data([751, 762, 774]).enter().append("rect")
  .attr("class", "logo-bar").attr("x", 735).attr("y", d => d).attr("width", 20).attr("height", 5.5).attr("fill", "#18d27d");
</script>
</body>
</html>
